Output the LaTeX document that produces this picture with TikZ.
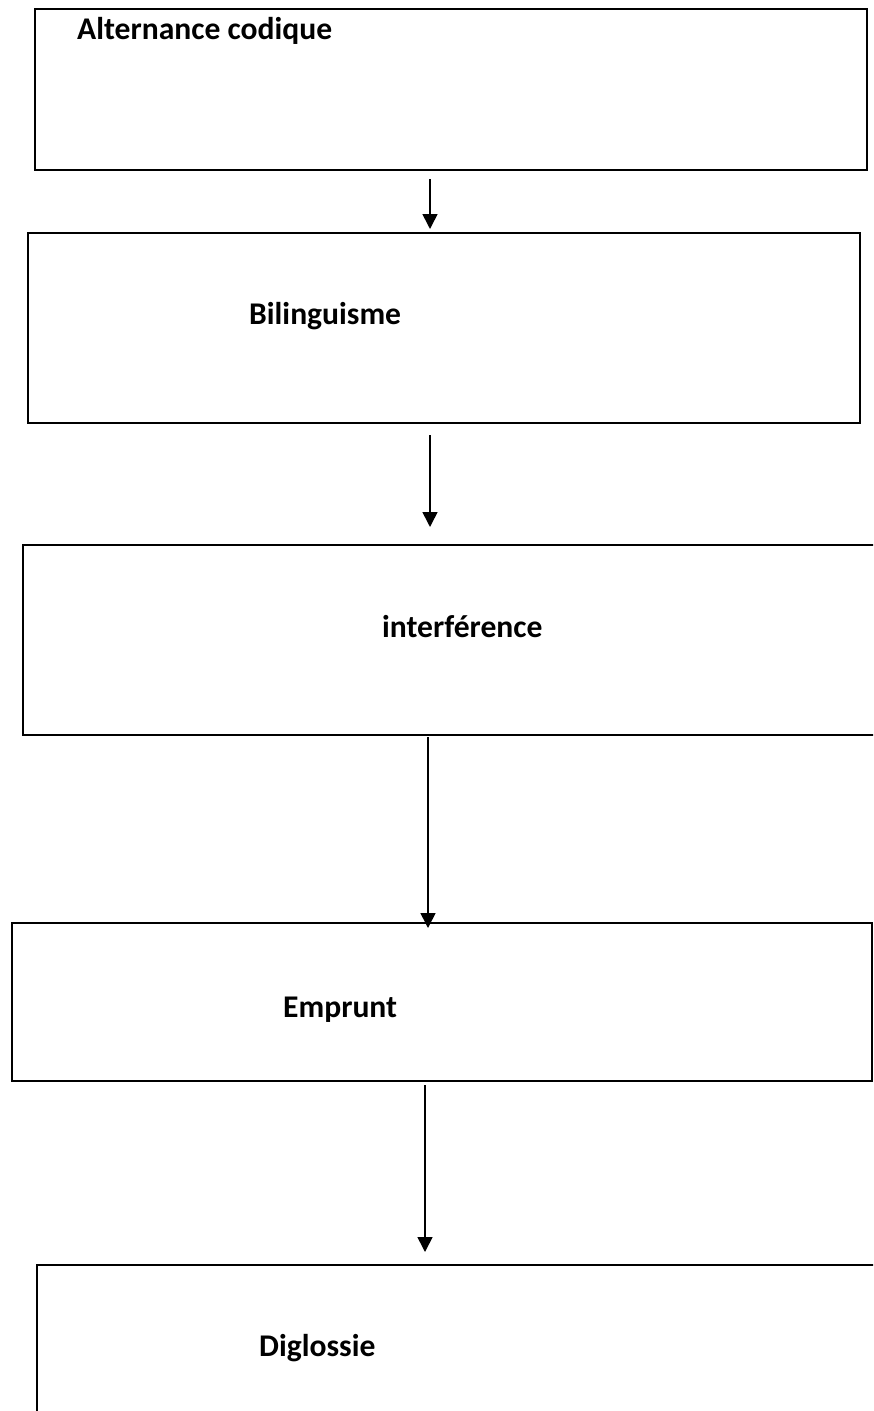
\documentclass[tikz,border=0pt]{standalone}
\usepackage{fontspec}
\setmainfont{Carlito}
\usetikzlibrary{arrows.meta}
\begin{document}
\begin{tikzpicture}[x=1pt,y=-1pt,
  boxnode/.style={draw=black,line width=2.2pt,rectangle,inner sep=0pt,outer sep=0pt},
  lbl/.style={anchor=base west,inner sep=0pt,font=\fontsize{31.6}{38}\selectfont\bfseries},
  arr/.style={draw=black,line width=1.6pt,-{Triangle[length=15pt,width=15pt]}}]
\useasboundingbox (0,0) rectangle (873,1411);
\clip (0,0) rectangle (873,1411);
\node[boxnode,minimum width=832pt,minimum height=161pt] (box1) at (451,89.5) {};
\node[boxnode,minimum width=832pt,minimum height=190pt] (box2) at (444,328) {};
\node[boxnode,minimum width=900pt,minimum height=190pt] (box3) at (473,640) {};
\node[boxnode,minimum width=860pt,minimum height=158pt] (box4) at (442,1002) {};
\node[boxnode,minimum width=863pt,minimum height=235pt] (box5) at (468.5,1382.5) {};
\node[lbl] (t1) at (77,39) {Alternance codique};
\node[lbl] (t2) at (249,324) {Bilinguisme};
\node[lbl] (t3) at (382,637) {interférence};
\node[lbl] (t4) at (283,1017) {Emprunt};
\node[lbl] (t5) at (259,1356) {Diglossie};
\draw[arr] ([xshift=-21pt,yshift=-9pt]box1.south) -- ([xshift=-14pt,yshift=4pt]box2.north);
\draw[arr] ([xshift=-14pt,yshift=-12pt]box2.south) -- ([xshift=-43pt,yshift=18pt]box3.north);
\draw[arr] ([xshift=-45pt,yshift=-2pt]box3.south) -- ([xshift=-14pt,yshift=-5pt]box4.north);
\draw[arr] ([xshift=-17pt,yshift=-4pt]box4.south) -- ([xshift=-43.5pt,yshift=13pt]box5.north);
\end{tikzpicture}
\end{document}
